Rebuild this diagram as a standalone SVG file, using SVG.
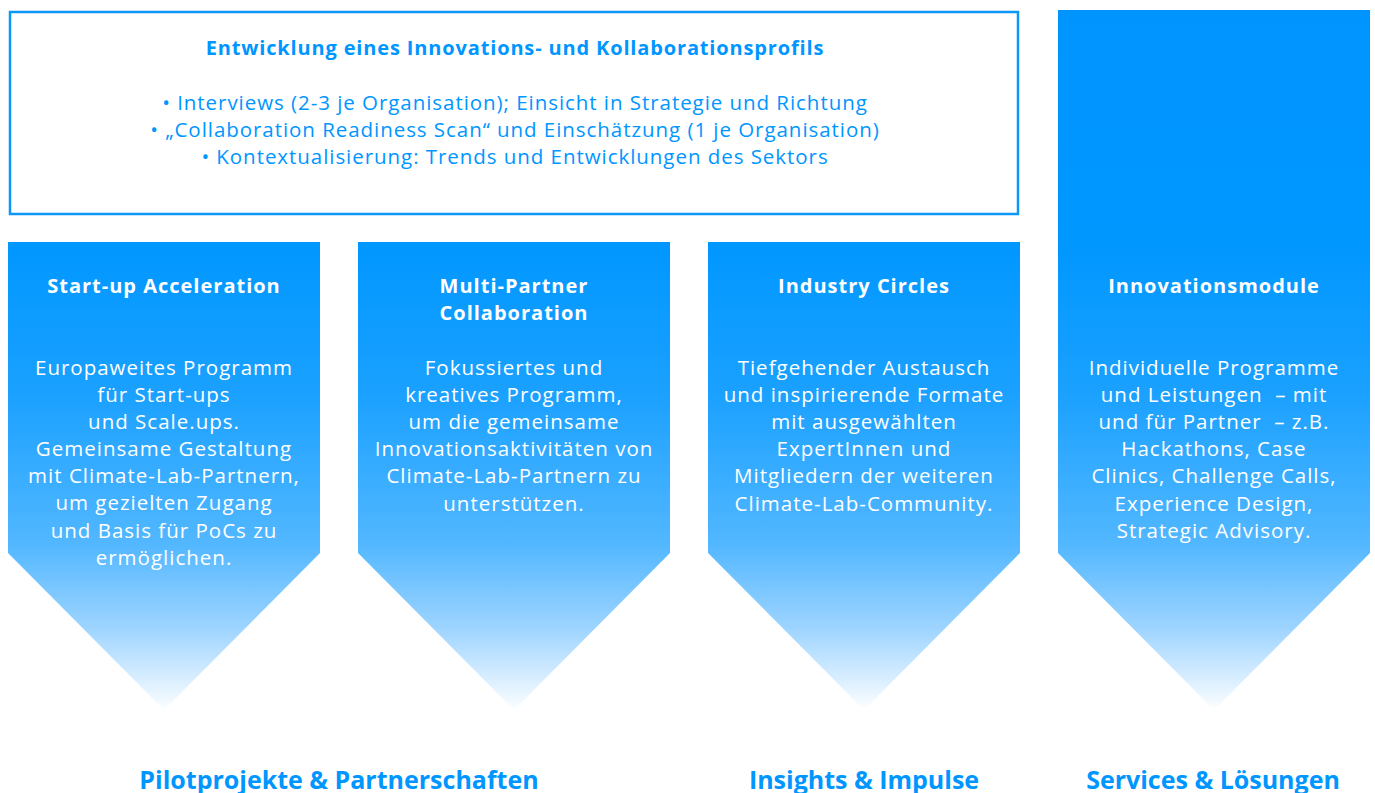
<svg xmlns="http://www.w3.org/2000/svg" width="1375" height="793" viewBox="0 0 1375 793">
<defs>
<linearGradient id="g" gradientUnits="userSpaceOnUse" x1="0" y1="10" x2="0" y2="712">
<stop offset="0" stop-color="#0094ff"/>
<stop offset="0.33" stop-color="#0097ff"/>
<stop offset="0.55" stop-color="#1ba1ff"/>
<stop offset="0.76" stop-color="#52b7ff"/>
<stop offset="0.88" stop-color="#9dd4ff"/>
<stop offset="1" stop-color="#ffffff"/>
</linearGradient>
<style>
.t{font-family:"Open Sans",Lato,sans-serif;text-anchor:middle}
.h{font-weight:bold;font-size:20px;fill:#fff;letter-spacing:1px}
.b{font-size:20.5px;fill:#fff;letter-spacing:1px}
.bl{font-size:20.5px;fill:#0096ff;letter-spacing:0.95px}
.bh{font-weight:bold;font-size:20px;fill:#0096ff;letter-spacing:0.85px}
.f{font-weight:bold;font-size:25px;fill:#0096ff}
.ch{fill:url(#g)}
</style>
</defs>
<g id="profil">
<rect x="10" y="12" width="1008" height="202" fill="#fff" stroke="#0d98f7" stroke-width="2.5"/>
<text class="t bh" x="515" y="55">Entwicklung eines Innovations- und Kollaborationsprofils</text>
<text class="t bl" x="515" y="110">• Interviews (2-3 je Organisation); Einsicht in Strategie und Richtung</text>
<text class="t bl" x="515" y="137">• „Collaboration Readiness Scan“ und Einschätzung (1 je Organisation)</text>
<text class="t bl" x="515" y="164">• Kontextualisierung: Trends und Entwicklungen des Sektors</text>
</g>
<g id="startup">
<polygon class="ch" points="8,242 320,242 320,553 164,710 8,553"/>
<text class="t h" x="164" y="293">Start-up Acceleration</text>
<text class="t b" x="164" y="375">Europaweites Programm</text>
<text class="t b" x="164" y="402">für Start-ups</text>
<text class="t b" x="164" y="429">und Scale.ups.</text>
<text class="t b" x="164" y="456">Gemeinsame Gestaltung</text>
<text class="t b" x="164" y="483">mit Climate-Lab-Partnern,</text>
<text class="t b" x="164" y="510">um gezielten Zugang</text>
<text class="t b" x="164" y="538">und Basis für PoCs zu</text>
<text class="t b" x="164" y="565">ermöglichen.</text>
</g>
<g id="multipartner">
<polygon class="ch" points="358,242 670,242 670,553 514,710 358,553"/>
<text class="t h" x="514" y="293">Multi-Partner</text>
<text class="t h" x="514" y="320">Collaboration</text>
<text class="t b" x="514" y="375">Fokussiertes und</text>
<text class="t b" x="514" y="402">kreatives Programm,</text>
<text class="t b" x="514" y="429">um die gemeinsame</text>
<text class="t b" x="514" y="456">Innovationsaktivitäten von</text>
<text class="t b" x="514" y="483">Climate-Lab-Partnern zu</text>
<text class="t b" x="514" y="511">unterstützen.</text>
</g>
<g id="industry">
<polygon class="ch" points="708,242 1020,242 1020,553 864,710 708,553"/>
<text class="t h" x="864" y="293">Industry Circles</text>
<text class="t b" x="864" y="375">Tiefgehender Austausch</text>
<text class="t b" x="864" y="402">und inspirierende Formate</text>
<text class="t b" x="864" y="429">mit ausgewählten</text>
<text class="t b" x="864" y="456">ExpertInnen und</text>
<text class="t b" x="864" y="483">Mitgliedern der weiteren</text>
<text class="t b" x="864" y="511">Climate-Lab-Community.</text>
</g>
<g id="innovationsmodule">
<polygon class="ch" points="1058,10 1370,10 1370,553 1214,710 1058,553"/>
<text class="t h" x="1214" y="293">Innovationsmodule</text>
<text class="t b" x="1214" y="375">Individuelle Programme</text>
<text class="t b" x="1214" y="402" xml:space="preserve">und Leistungen  – mit</text>
<text class="t b" x="1214" y="429" xml:space="preserve">und für Partner  – z.B.</text>
<text class="t b" x="1214" y="456">Hackathons, Case</text>
<text class="t b" x="1214" y="483">Clinics, Challenge Calls,</text>
<text class="t b" x="1214" y="511">Experience Design,</text>
<text class="t b" x="1214" y="538">Strategic Advisory.</text>
</g>
<g id="labels">
<text class="t f" x="339" y="789">Pilotprojekte &amp; Partnerschaften</text>
<text class="t f" x="864" y="789">Insights &amp; Impulse</text>
<text class="t f" x="1213" y="789">Services &amp; Lösungen</text>
</g>
<g id="connectors"></g>
</svg>
